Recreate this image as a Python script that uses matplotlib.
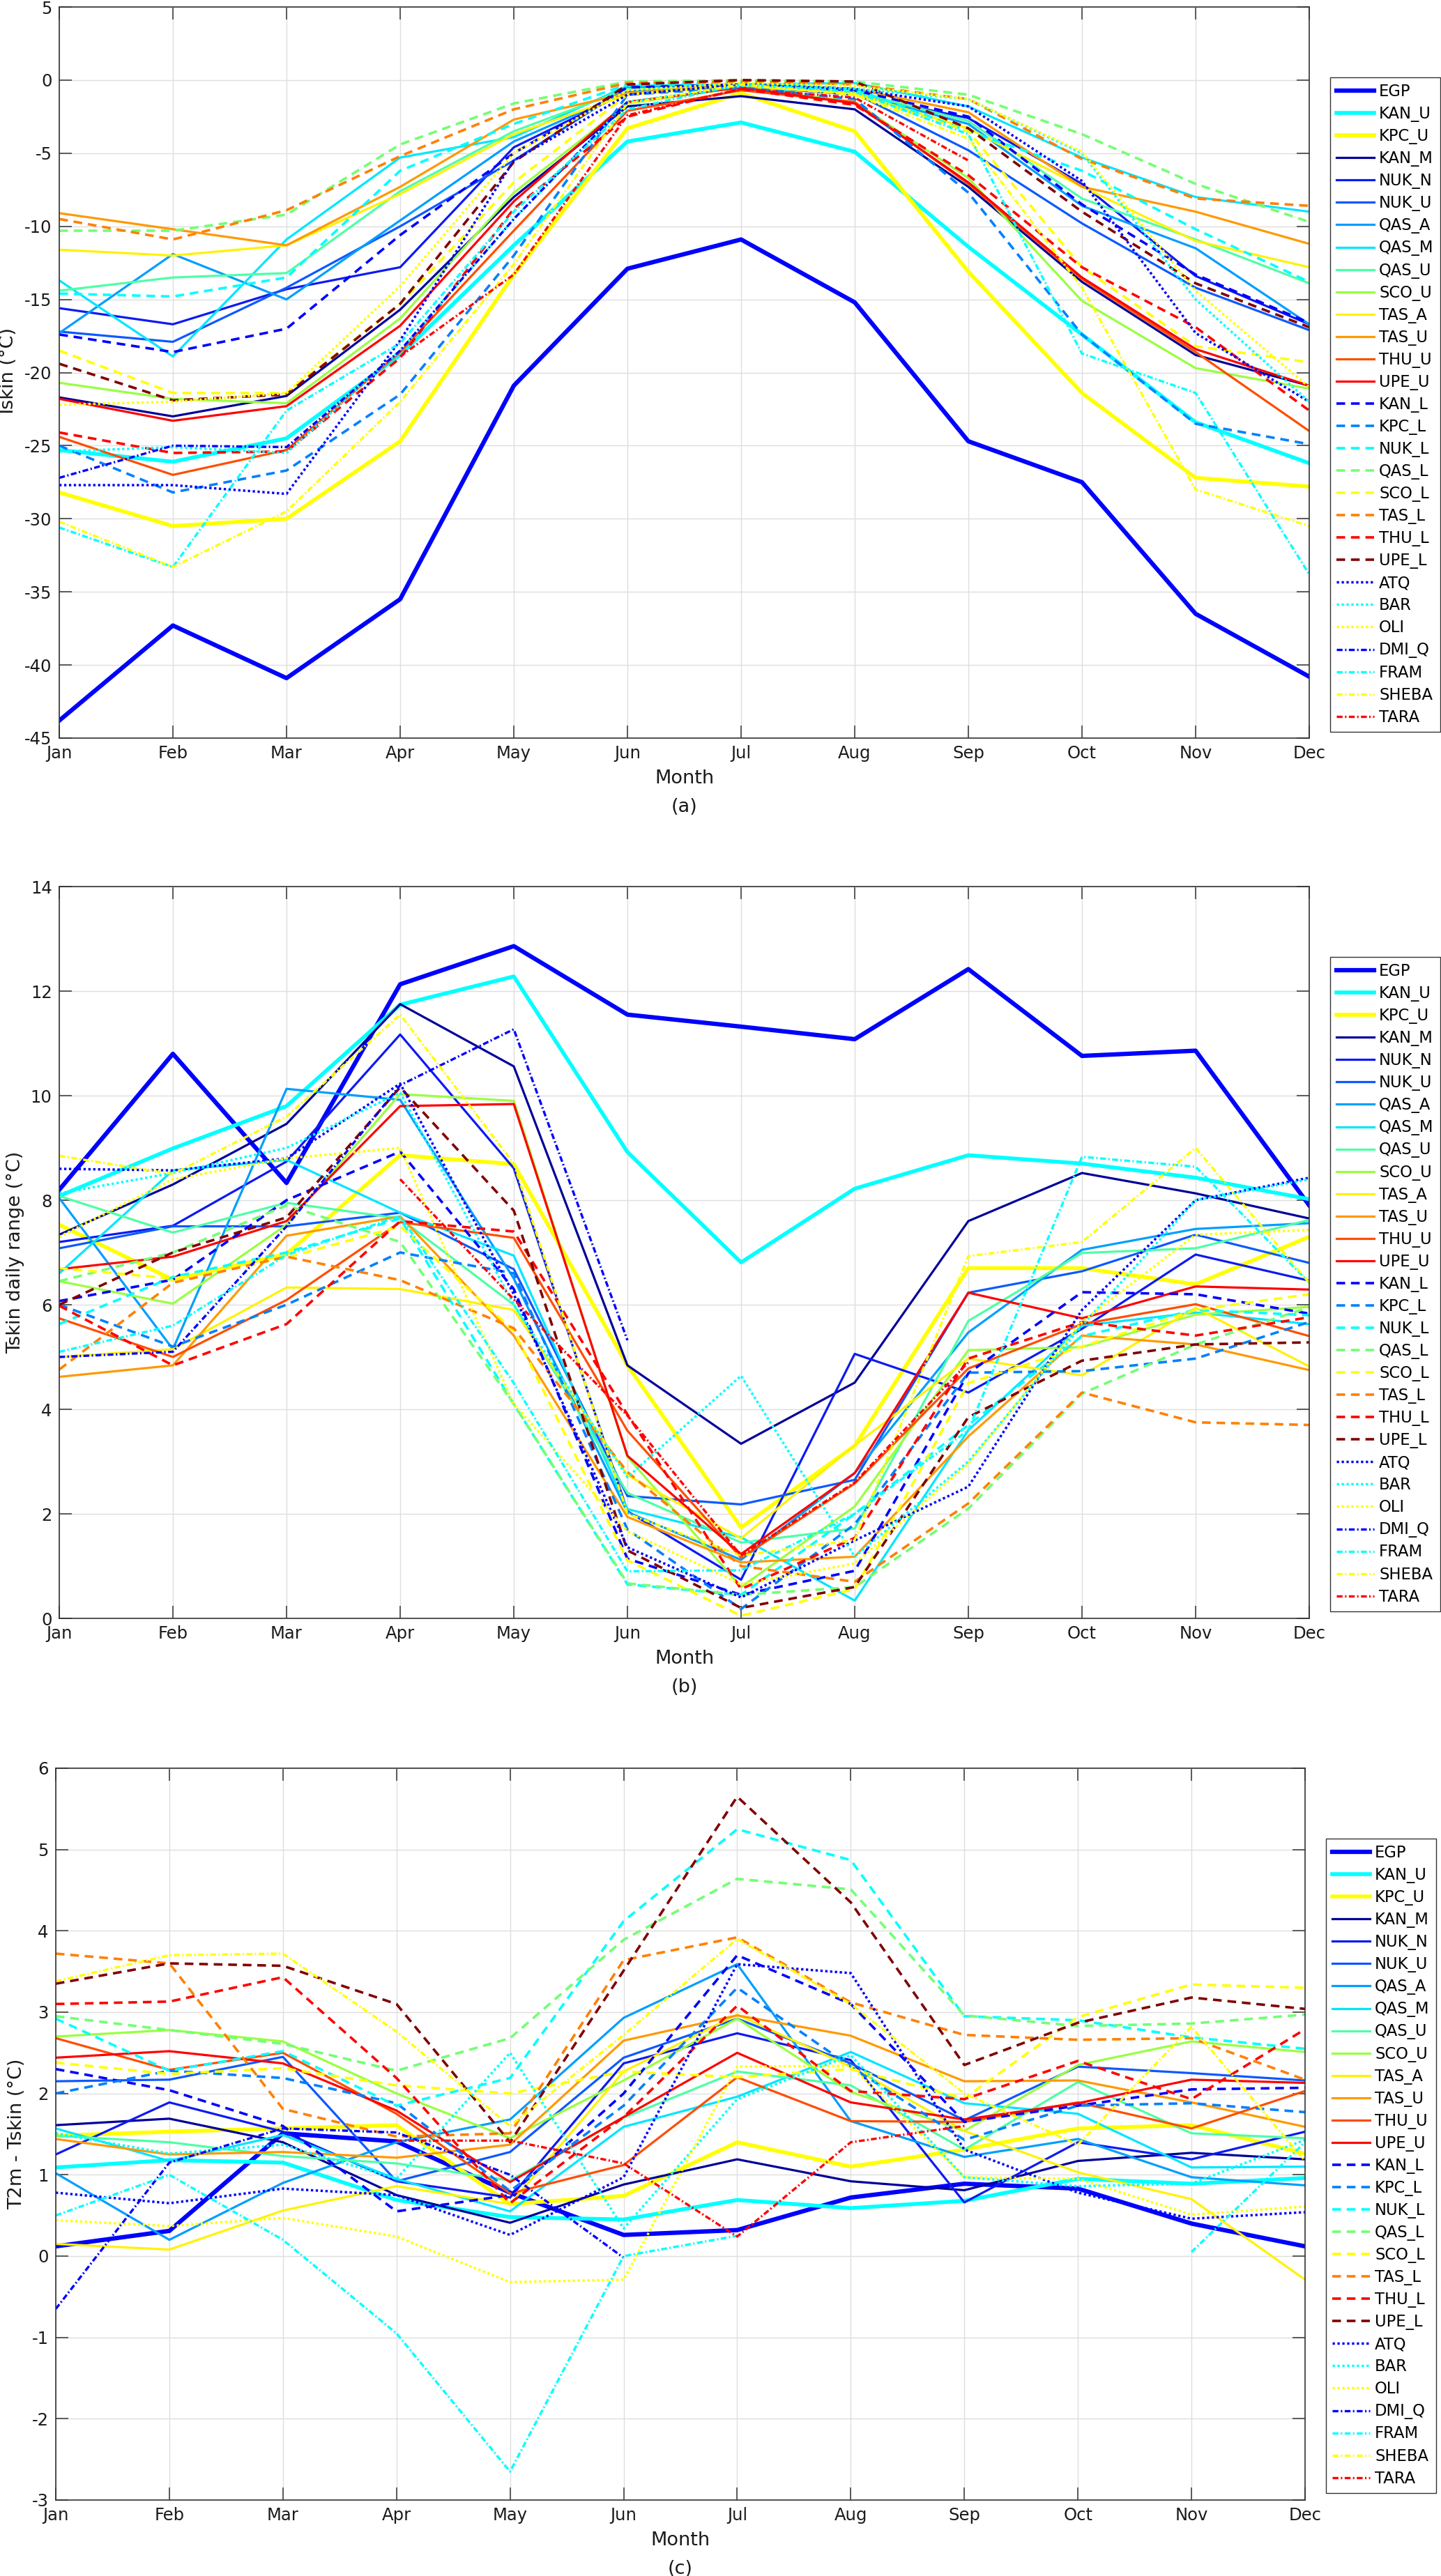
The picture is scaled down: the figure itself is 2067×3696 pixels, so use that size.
import numpy as np
import matplotlib
matplotlib.use("Agg")
import matplotlib.pyplot as plt

nan = np.nan
MONTHS = ["Jan", "Feb", "Mar", "Apr", "May", "Jun",
          "Jul", "Aug", "Sep", "Oct", "Nov", "Dec"]
NAMES = ["EGP", "KAN_U", "KPC_U", "KAN_M", "NUK_N", "NUK_U", "QAS_A", "QAS_M",
         "QAS_U", "SCO_U", "TAS_A", "TAS_U", "THU_U", "UPE_U", "KAN_L", "KPC_L",
         "NUK_L", "QAS_L", "SCO_L", "TAS_L", "THU_L", "UPE_L", "ATQ", "BAR",
         "OLI", "DMI_Q", "FRAM", "SHEBA", "TARA"]

# ---- (a) monthly mean Tskin (degC) ----
A_EGP = [-43.8, -37.3, -40.9, -35.5, -20.9, -12.9, -10.9, -15.2, -24.7, -27.5, -36.5, -40.8]
A_KAN_U = [-25.3, -26.1, -24.5, -18.8, -11.3, -4.2, -2.9, -4.9, -11.4, -17.4, -23.4, -26.2]
A_KPC_U = [-28.2, -30.5, -30.0, -24.7, -13.3, -3.3, -0.9, -3.5, -13.1, -21.4, -27.2, -27.8]
A_KAN_M = [-21.7, -23.0, -21.6, -15.7, -8.0, -1.8, -1.1, -2.0, -7.3, -13.8, -18.8, -20.9]
A_NUK_N = [-15.6, -16.7, -14.3, -12.8, -4.6, -0.8, -0.4, -1.0, -2.6, -7.1, -13.4, -16.7]
A_NUK_U = [-17.2, -17.9, -14.2, -10.0, -5.5, -0.5, -0.3, -0.9, -4.8, -9.8, -14.2, -17.1]
A_QAS_A = [-17.3, -11.9, -15.0, -9.6, -4.2, -0.8, -0.5, -0.9, -3.0, -8.6, -11.5, -16.7]
A_QAS_M = [-13.7, -18.9, -10.9, -5.3, -3.9, -0.4, -0.3, -0.2, -1.8, -5.3, -8.0, -9.0]
A_QAS_U = [-14.4, -13.5, -13.2, -7.6, -3.5, -0.6, -0.5, -0.8, -2.8, -8.1, -10.9, -13.9]
A_SCO_U = [-20.7, -21.8, -22.1, -16.3, -7.7, -1.6, -0.5, -1.5, -6.7, -15.1, -19.7, -21.1]
A_TAS_A = [-11.6, -12.0, -11.3, -7.8, -3.7, -1.0, -0.4, -0.9, -3.3, -7.3, -11.0, -12.8]
A_TAS_U = [-9.1, -10.2, -11.3, -7.3, -2.7, -0.9, -0.3, -0.6, -2.2, -7.3, -9.0, -11.2]
A_THU_U = [-24.4, -27.0, -25.3, -18.6, -10.3, -2.1, -0.7, -1.5, -7.1, -13.6, -18.6, -24.0]
A_UPE_U = [-21.8, -23.3, -22.3, -16.8, -8.3, -1.5, -0.5, -1.6, -7.0, -13.5, -18.4, -20.9]
A_KAN_L = [-17.4, -18.6, -17.0, -10.6, -5.0, -0.5, -0.3, -0.7, -2.5, -8.5, -13.3, -16.6]
A_KPC_L = [-25.0, -28.2, -26.7, -21.5, -12.0, -1.0, -0.5, -1.3, -7.7, -17.4, -23.5, -24.9]
A_NUK_L = [-14.6, -14.8, -13.5, -6.2, -3.0, -0.3, -0.2, -0.6, -3.5, -6.2, -10.2, -13.8]
A_QAS_L = [-10.3, -10.3, -9.2, -4.4, -1.6, -0.1, 0.0, -0.1, -1.0, -3.7, -7.1, -9.7]
A_SCO_L = [-18.5, -21.4, -21.4, -15.3, -7.0, -1.0, -0.3, -1.0, -3.5, -12.8, -18.2, -19.3]
A_TAS_L = [-9.5, -10.9, -8.9, -5.2, -2.0, -0.2, -0.1, -0.3, -1.3, -5.4, -8.1, -8.6]
A_THU_L = [-24.1, -25.5, -25.4, -19.0, -8.8, -2.5, -0.6, -1.7, -6.5, -12.8, -16.9, -22.6]
A_UPE_L = [-19.4, -21.9, -21.5, -15.3, -5.6, -0.3, 0.0, -0.1, -3.3, -9.0, -13.9, -16.9]
A_ATQ = [-27.7, -27.7, -28.3, -17.8, -5.5, -1.0, -0.3, -0.6, -1.8, -6.9, -17.3, -22.0]
A_BAR = [-25.4, -25.1, -25.5, -18.5, -9.5, -1.5, -0.4, -0.6, -1.3, -5.0, -15.0, -22.0]
A_OLI = [-22.2, -22.0, -21.4, -14.1, -5.0, -0.7, -0.2, -0.4, -1.3, -4.9, -14.4, -21.0]
A_DMI_Q = [-27.2, -25.0, -25.1, -18.5, -9.5, -1.5, nan, nan, nan, nan, nan, nan]
A_FRAM = [-30.6, -33.3, -22.6, -18.0, -9.0, -2.0, -0.3, -0.8, -3.7, -18.7, -21.4, -33.8]
A_SHEBA = [-30.2, -33.3, -29.5, -22.0, -12.6, -1.6, -0.3, -1.0, -4.0, -14.2, -28.0, -30.5]
A_TARA = [nan, nan, nan, -18.9, -13.3, -2.4, -0.6, -1.2, -5.5, nan, nan, nan]

# ---- (b) Tskin daily range (degC) ----
B_EGP = [8.2, 10.8, 8.33, 12.13, 12.86, 11.55, 11.32, 11.08, 12.42, 10.76, 10.86, 7.9]
B_KAN_U = [8.08, 8.99, 9.8, 11.74, 12.28, 8.92, 6.81, 8.22, 8.86, 8.7, 8.43, 8.02]
B_KPC_U = [7.53, 6.48, 6.97, 8.86, 8.69, 4.84, 1.74, 3.3, 6.7, 6.7, 6.39, 7.3]
B_KAN_M = [7.34, 8.3, 9.46, 11.75, 10.56, 4.84, 3.34, 4.51, 7.6, 8.52, 8.13, 7.65]
B_NUK_N = [7.2, 7.51, 8.74, 11.17, 8.61, 2.05, 0.74, 5.06, 4.32, 5.54, 6.96, 6.46]
B_NUK_U = [7.08, 7.5, 7.5, 7.76, 6.68, 2.34, 2.18, 2.65, 6.23, 6.64, 7.34, 6.8]
B_QAS_A = [8.04, 5.15, 10.13, 9.92, 6.5, 2.03, 1.12, 2.78, 5.47, 7.05, 7.45, 7.56]
B_QAS_M = [6.6, 8.57, 8.77, 7.76, 6.94, 2.09, 1.55, 0.34, 3.6, 5.6, 5.85, 5.63]
B_QAS_U = [8.08, 7.38, 7.95, 7.65, 6.0, 2.4, 1.45, 1.72, 5.69, 6.99, 7.08, 7.62]
B_SCO_U = [6.45, 6.02, 7.53, 10.03, 9.9, 3.09, 0.6, 2.14, 5.13, 5.19, 5.81, 5.96]
B_TAS_A = [5.0, 5.15, 6.33, 6.3, 5.9, 2.74, 1.53, 3.31, 4.97, 4.65, 5.94, 4.82]
B_TAS_U = [4.62, 4.84, 7.32, 7.69, 5.41, 1.94, 1.07, 1.18, 3.48, 5.41, 5.24, 4.75]
B_THU_U = [5.74, 5.0, 6.09, 7.58, 7.28, 3.59, 1.16, 2.58, 4.78, 5.63, 6.01, 5.4]
B_UPE_U = [6.68, 6.92, 7.6, 9.8, 9.84, 3.11, 1.23, 2.78, 6.23, 5.74, 6.35, 6.29]
B_KAN_L = [6.07, 6.48, 8.0, 8.93, 6.3, 1.14, 0.45, 0.91, 4.69, 6.24, 6.2, 5.83]
B_KPC_L = [6.0, 5.2, 6.0, 7.0, 6.6, 1.7, 0.18, 1.8, 4.7, 4.73, 4.97, 5.67]
B_NUK_L = [5.63, 6.53, 7.0, 7.65, 4.1, 0.65, 0.45, 2.0, 3.7, 5.4, 5.9, 5.8]
B_QAS_L = [6.45, 7.0, 7.9, 7.2, 4.1, 0.67, 0.45, 0.6, 2.1, 4.3, 5.24, 5.95]
B_SCO_L = [6.7, 6.5, 6.9, 7.5, 5.5, 1.11, 0.05, 0.56, 4.5, 5.2, 5.9, 6.2]
B_TAS_L = [4.76, 6.42, 6.92, 6.47, 5.55, 2.8, 1.0, 0.7, 2.2, 4.32, 3.75, 3.7]
B_THU_L = [5.98, 4.84, 5.63, 7.6, 7.4, 3.9, 0.56, 1.54, 4.97, 5.67, 5.41, 5.76]
B_UPE_L = [6.0, 7.0, 7.67, 10.16, 7.8, 1.3, 0.2, 0.6, 3.85, 4.93, 5.24, 5.28]
B_ATQ = [8.6, 8.57, 8.8, 10.23, 6.2, 1.36, 0.4, 1.49, 2.52, 5.9, 8.0, 8.43]
B_BAR = [8.13, 8.52, 9.0, 10.06, 6.0, 2.7, 4.64, 1.18, 3.0, 5.6, 8.0, 8.4]
B_OLI = [7.3, 8.4, 8.8, 9.0, 4.1, 1.67, 0.65, 1.05, 2.96, 5.67, 7.34, 7.43]
B_DMI_Q = [5.0, 5.1, 7.5, 10.2, 11.27, 5.32, nan, nan, nan, nan, nan, nan]
B_FRAM = [5.1, 5.6, 6.95, 7.7, 4.5, 0.9, 0.92, 2.0, 3.6, 8.83, 8.64, 6.42]
B_SHEBA = [8.85, 8.5, 9.6, 11.55, 8.7, 2.0, 1.2, 1.5, 6.93, 7.2, 9.0, 6.42]
B_TARA = [nan, nan, nan, 8.4, 6.1, 3.88, 1.2, 2.6, 4.9, nan, nan, nan]

# ---- (c) T2m - Tskin (degC) ----
C_EGP = [0.12, 0.31, 1.51, 1.41, 0.78, 0.26, 0.32, 0.72, 0.89, 0.83, 0.4, 0.12]
C_KAN_U = [1.09, 1.18, 1.15, 0.69, 0.48, 0.45, 0.69, 0.59, 0.68, 0.95, 0.89, 0.96]
C_KPC_U = [1.48, 1.53, 1.57, 1.61, 0.64, 0.74, 1.4, 1.1, 1.31, 1.57, 1.61, 1.26]
C_KAN_M = [1.61, 1.69, 1.4, 0.75, 0.41, 0.88, 1.19, 0.92, 0.81, 1.17, 1.27, 1.19]
C_NUK_N = [1.25, 1.89, 1.53, 0.92, 0.72, 2.37, 2.74, 2.41, 0.66, 1.4, 1.19, 1.53]
C_NUK_U = [2.15, 2.17, 2.45, 0.92, 1.28, 2.44, 2.92, 2.37, 1.67, 2.33, 2.25, 2.16]
C_QAS_A = [1.02, 0.2, 0.9, 1.4, 1.68, 2.93, 3.59, 1.66, 1.22, 1.44, 0.97, 0.87]
C_QAS_M = [1.57, 1.17, 1.49, 0.95, 0.55, 1.59, 1.96, 2.51, 1.88, 1.75, 1.09, 1.1]
C_QAS_U = [1.48, 1.4, 1.23, 1.14, 0.93, 1.7, 2.27, 2.1, 1.31, 2.14, 1.51, 1.45]
C_SCO_U = [2.7, 2.78, 2.64, 2.0, 1.45, 2.16, 2.92, 2.02, 1.54, 2.35, 2.64, 2.51]
C_TAS_A = [0.15, 0.08, 0.56, 0.86, 0.64, 2.27, 2.97, 2.33, 1.54, 1.03, 0.7, -0.29]
C_TAS_U = [1.44, 1.25, 1.28, 1.21, 1.37, 2.65, 2.96, 2.71, 2.15, 2.16, 1.89, 1.59]
C_THU_U = [2.68, 2.29, 2.5, 1.75, 0.77, 1.12, 2.2, 1.66, 1.65, 1.89, 1.57, 2.03]
C_UPE_U = [2.44, 2.52, 2.37, 1.79, 0.91, 1.71, 2.5, 1.89, 1.68, 1.88, 2.17, 2.13]
C_KAN_L = [2.3, 2.04, 1.6, 0.55, 0.75, 2.0, 3.7, 3.1, 1.65, 1.85, 2.05, 2.07]
C_KPC_L = [2.0, 2.28, 2.19, 1.88, 0.8, 1.85, 3.3, 2.33, 1.43, 1.85, 1.88, 1.77]
C_NUK_L = [2.92, 2.28, 2.52, 1.85, 2.19, 4.12, 5.25, 4.87, 2.95, 2.9, 2.69, 2.55]
C_QAS_L = [2.95, 2.78, 2.61, 2.28, 2.68, 3.89, 4.64, 4.51, 2.96, 2.83, 2.86, 2.97]
C_SCO_L = [2.38, 2.24, 2.31, 2.1, 2.0, 2.27, 2.2, 2.3, 1.94, 2.94, 3.34, 3.3]
C_TAS_L = [3.72, 3.6, 1.81, 1.47, 1.51, 3.64, 3.92, 3.12, 2.72, 2.66, 2.68, 2.17]
C_THU_L = [3.1, 3.13, 3.43, 2.19, 0.65, 1.71, 3.08, 2.03, 1.93, 2.4, 1.93, 2.79]
C_UPE_L = [3.35, 3.6, 3.57, 3.1, 1.4, 3.51, 5.65, 4.35, 2.35, 2.87, 3.18, 3.04]
C_ATQ = [0.78, 0.65, 0.83, 0.75, 0.26, 0.97, 3.59, 3.48, 1.31, 0.78, 0.46, 0.54]
C_BAR = [1.51, 1.26, 1.37, 0.95, 2.5, 0.34, 1.93, 2.47, 0.97, 0.86, 0.89, 1.43]
C_OLI = [0.44, 0.37, 0.47, 0.24, -0.32, -0.29, 2.33, 2.34, 0.97, 0.95, 0.51, 0.61]
C_DMI_Q = [-0.65, 1.15, 1.57, 1.52, 1.0, -0.02, nan, nan, nan, nan, nan, nan]
C_FRAM = [0.5, 1.0, 0.2, -0.95, -2.65, 0.0, 0.25, nan, nan, nan, 0.05, 1.4]
C_SHEBA = [3.38, 3.7, 3.72, 2.76, 1.6, 2.72, 3.9, 3.1, 2.0, 1.37, 2.82, 1.17]
C_TARA = [nan, nan, nan, 1.42, 1.42, 1.14, 0.24, 1.4, 1.6, nan, nan, nan]

# ---- line styling ----
COLORS = [(0, 0, 1), (0, 1, 1), (1, 1, 0), (0, 0, 0.6), (0.05, 0.1, 0.95),
          (0.05, 0.35, 1), (0, 0.62, 1), (0, 0.9, 1), (0.3, 1, 0.65),
          (0.6, 1, 0.25), (1, 0.95, 0), (1, 0.6, 0), (1, 0.3, 0), (1, 0, 0),
          (0, 0, 1), (0, 0.5, 1), (0, 1, 1), (0.45, 1, 0.45), (1, 1, 0),
          (1, 0.5, 0), (1, 0, 0), (0.5, 0, 0), (0, 0, 1), (0, 1, 1), (1, 1, 0),
          (0, 0, 1), (0, 1, 1), (1, 1, 0), (1, 0, 0)]
KINDS = ["solid"] * 14 + ["dash"] * 8 + ["dot"] * 3 + ["dashdot"] * 4
WIDTHS = [4.5, 4.0, 4.0] + [2.3] * 11 + [2.6] * 8 + [2.5] * 3 + [2.4] * 4
DASHES = {"solid": "-", "dash": (0, (9, 6)), "dot": (0, (2.4, 2.6)),
          "dashdot": (0, (6, 2.5, 1.5, 2.5))}

PANEL_A = [A_EGP, A_KAN_U, A_KPC_U, A_KAN_M, A_NUK_N, A_NUK_U, A_QAS_A, A_QAS_M,
           A_QAS_U, A_SCO_U, A_TAS_A, A_TAS_U, A_THU_U, A_UPE_U, A_KAN_L, A_KPC_L,
           A_NUK_L, A_QAS_L, A_SCO_L, A_TAS_L, A_THU_L, A_UPE_L, A_ATQ, A_BAR,
           A_OLI, A_DMI_Q, A_FRAM, A_SHEBA, A_TARA]
PANEL_B = [B_EGP, B_KAN_U, B_KPC_U, B_KAN_M, B_NUK_N, B_NUK_U, B_QAS_A, B_QAS_M,
           B_QAS_U, B_SCO_U, B_TAS_A, B_TAS_U, B_THU_U, B_UPE_U, B_KAN_L, B_KPC_L,
           B_NUK_L, B_QAS_L, B_SCO_L, B_TAS_L, B_THU_L, B_UPE_L, B_ATQ, B_BAR,
           B_OLI, B_DMI_Q, B_FRAM, B_SHEBA, B_TARA]
PANEL_C = [C_EGP, C_KAN_U, C_KPC_U, C_KAN_M, C_NUK_N, C_NUK_U, C_QAS_A, C_QAS_M,
           C_QAS_U, C_SCO_U, C_TAS_A, C_TAS_U, C_THU_U, C_UPE_U, C_KAN_L, C_KPC_L,
           C_NUK_L, C_QAS_L, C_SCO_L, C_TAS_L, C_THU_L, C_UPE_L, C_ATQ, C_BAR,
           C_OLI, C_DMI_Q, C_FRAM, C_SHEBA, C_TARA]

plt.rcParams["font.family"] = ["DejaVu Sans"]
plt.rcParams["axes.unicode_minus"] = False
plt.rcParams["lines.scale_dashes"] = False

W, H = 2067, 3696
fig = plt.figure(figsize=(W / 100, H / 100), dpi=100)

# (data, ylabel, ylim, yticks, tag, pixel box left/top/right/bottom, ylabel x)
panels = [
    (PANEL_A, "Tskin (\u00b0C)", (-45, 5), np.arange(-45, 6, 5), "(a)", (85, 10, 1878, 1059), 12),
    (PANEL_B, "Tskin daily range (\u00b0C)", (0, 14), np.arange(0, 15, 2), "(b)", (85, 1272, 1878, 2322), 22),
    (PANEL_C, "T2m - Tskin (\u00b0C)", (-3, 6), np.arange(-3, 7, 1), "(c)", (80, 2537, 1872, 3587), 24),
]

x = np.arange(1, 13)
for data, ylab, ylim, yticks, tag, (l, t, r, b), ylx in panels:
    ax = fig.add_axes([l / W, 1 - b / H, (r - l) / W, (b - t) / H])
    for name, vals, col, kind, lw in zip(NAMES, data, COLORS, KINDS, WIDTHS):
        ax.plot(x, vals, color=col, linestyle=DASHES[kind], linewidth=lw, label=name)

    ax.set_xlim(1, 12)
    ax.set_ylim(*ylim)
    ax.set_xticks(x)
    ax.set_xticklabels(MONTHS)
    ax.set_yticks(yticks)
    ax.set_axisbelow(True)
    ax.grid(True, color="0.87", linewidth=1.0)
    ax.tick_params(direction="in", length=13, width=1.1, top=True, right=True,
                   labelsize=17.5, pad=7.5, color="0.2", labelcolor="0.1")
    for sp in ax.spines.values():
        sp.set_color("0.2")
        sp.set_linewidth(1.2)

    leg = ax.legend(loc="upper left", bbox_to_anchor=((r + 30) / W, 1 - (t + 101) / H),
                    bbox_transform=fig.transFigure, borderaxespad=0, fontsize=16.3,
                    labelspacing=0.4, handlelength=2.39, handletextpad=0.31,
                    borderpad=0.4, fancybox=False, framealpha=1, edgecolor="0.2")
    leg.get_frame().set_linewidth(1.0)

    cx = (l + r) / 2 / W
    fig.text(cx, 1 - (b + 58) / H, "Month", ha="center", va="center", fontsize=19.5, color="0.1")
    fig.text(cx, 1 - (b + 99) / H, tag, ha="center", va="center", fontsize=19.5, color="0.1")
    fig.text(ylx / W, 1 - (t + b) / 2 / H, ylab, ha="center", va="center",
             rotation=90, fontsize=19.5, color="0.1")

fig.savefig("out.png", dpi=100)
